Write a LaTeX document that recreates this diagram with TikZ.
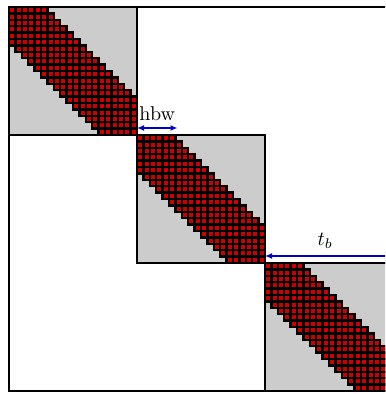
\documentclass[tikz,border=0pt]{standalone}
\usepackage{amsmath,amssymb}
\usepackage{tikz}
\usetikzlibrary{arrows.meta,calc}
\definecolor{blockgray}{RGB}{204,204,204}
\definecolor{bandred}{RGB}{204,0,0}
\definecolor{dimblue}{RGB}{0,0,200}

\begin{document}
\begin{tikzpicture}[
  x=0.5pt,y=-0.5pt,
  >={Latex[length=3.5pt,width=3pt]},
  block/.style={draw=black,line width=0.8pt,fill=blockgray},
  frame/.style={draw=black,line width=0.8pt},
  cell/.style={draw=black,line width=1.2pt,fill=bandred},
  dim/.style={dimblue,line width=0.75pt}
]
  \useasboundingbox (-9,-7) rectangle (376,387);
  \clip (-9,-7) rectangle (376,387);
  % diagonal blocks
  \foreach \k in {0,1,2}
    \draw[block] (128*\k,128*\k) rectangle ++(128,128);
  % band of nonzeros, |i-j| <= 5 inside each block
  \foreach \k in {0,1,2}
    \foreach \i in {0,...,19}
      \foreach \d in {-5,...,5}{
        \pgfmathtruncatemacro\j{\i+\d}
        \ifnum\j<0 \else \ifnum\j>19 \else
          \draw[cell] (128*\k+6.4*\j,128*\k+6.4*\i) rectangle ++(6.4,6.4);
        \fi\fi
      }
  \foreach \k in {0,1,2}
    \draw[frame] (128*\k,128*\k) rectangle ++(128,128);
  \draw[frame] (0,0) rectangle (384,384);
  % half bandwidth and block size
  \coordinate (hbwL) at (128,121);
  \coordinate (hbwR) at (168.5,121);
  \coordinate (tbL) at (256,249);
  \coordinate (tbR) at (384,249);
  \draw[dim,<->] (hbwL) -- node[above,black] {hbw} (hbwR);
  \draw[dim,<-] (tbL) -- node[above,black,pos=0.47] {$t_b$} (tbR);
\end{tikzpicture}
\end{document}
